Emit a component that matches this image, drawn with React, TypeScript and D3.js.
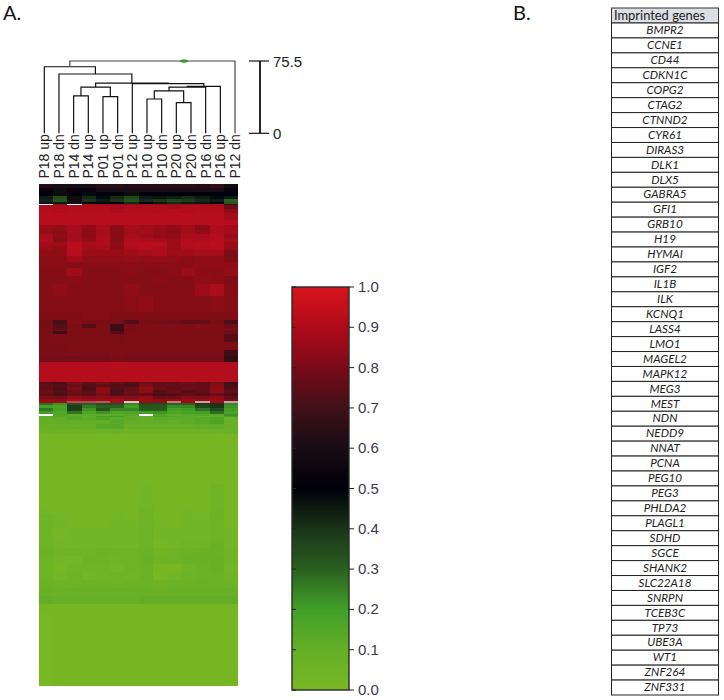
import * as d3 from 'd3';

const W = 724, H = 700;

// sample order along the heatmap and the dendrogram
const samples = ['P18 up', 'P18 dn', 'P14 dn', 'P14 up', 'P01 up', 'P01 dn', 'P12 up', 'P10 up', 'P10 dn', 'P20 up', 'P20 dn', 'P16 dn', 'P16 up', 'P12 dn'];

// [id, left child, right child, height]; numbers are leaves, strings are merges
const merges: [string, number | string, number | string, number][] = [
  ['K', 2, 3, 39], ['L', 4, 5, 38.2], ['J', 'K', 'L', 48.3],
  ['H', 7, 8, 35.8], ['I', 9, 10, 32], ['G', 'H', 'I', 44.2],
  ['F', 'G', 11, 48.3], ['E', 'F', 12, 49], ['D', 6, 'E', 51.8],
  ['C', 'J', 'D', 52.5], ['B', 1, 'C', 61.9], ['A', 0, 'B', 69.5],
  ['root', 'A', 13, 75.5],
];
const scaleTicks = [0, 75.5];

const colorDomain = [0, 0.1, 0.2, 0.3, 0.4, 0.5, 0.6, 0.7, 0.8, 0.9, 1];
const colorRange = ['#78b824', '#64ae26', '#40a028', '#2a6020', '#1a3418', '#000008', '#180c14', '#401018', '#7a0a18', '#b00a1a', '#d8141c'];
const legendTicks = [0, 0.1, 0.2, 0.3, 0.4, 0.5, 0.6, 0.7, 0.8, 0.9, 1];

// first rank of each band (rank 0 = top of the heatmap, 502 = bottom)
const bandStart = [
  0, 4, 8, 12, 15, 18, 19.5, 21, 25, 29, 36, 41, 46, 50, 54, 58, 62, 66, 72, 78, 84, 92, 100, 112, 128, 136, 140, 144, 147, 150, 158, 166, 172, 178,
  198, 199.5, 203, 206, 209, 212, 215, 216.5, 219, 221, 224, 227, 230, 231.5, 233, 236, 240, 245, 250, 300, 324, 330, 336, 344, 356, 364, 372, 380, 388, 396, 404, 412, 420, 428,
];
const bandValues: (number | null)[][] = [
  [.62, .60, .58, .60, .64, .64, .62, .62, .62, .64, .64, .62, .66, .56],
  [.54, .56, .55, .55, .58, .58, .58, .58, .58, .60, .58, .58, .58, .53],
  [.50, .47, .52, .48, .52, .50, .47, .52, .52, .50, .50, .52, .52, .50],
  [.44, .34, .47, .42, .48, .42, .36, .44, .46, .44, .42, .44, .48, .44],
  [.43, .33, .47, .40, .44, .40, .33, .42, .40, .36, .38, .42, .44, .30],
  [.60, .44, .60, .50, .55, .50, .42, .50, .46, .42, .44, .46, .52, .33],
  [null, .86, null, .88, .86, .86, .86, .86, .86, .86, .86, .88, .88, .70],
  [.90, .89, .90, .90, .90, .88, .90, .90, .90, .88, .90, .90, .90, .78],
  [.91, .90, .91, .91, .91, .89, .91, .91, .90, .91, .90, .91, .91, .84],
  [.92, .92, .92, .92, .92, .92, .92, .92, .92, .92, .92, .92, .92, .88],
  [.92, .92, .92, .92, .92, .92, .92, .92, .92, .92, .92, .92, .92, .91],
  [.86, .85, .88, .84, .89, .83, .88, .87, .86, .84, .87, .83, .90, .87],
  [.85, .83, .88, .83, .88, .82, .87, .88, .85, .83, .87, .84, .90, .88],
  [.88, .84, .87, .83, .89, .83, .88, .86, .84, .84, .88, .88, .91, .85],
  [.90, .82, .88, .84, .90, .82, .90, .89, .88, .86, .90, .90, .92, .88],
  [.87, .87, .92, .88, .90, .84, .92, .92, .93, .86, .91, .92, .93, .86],
  [.86, .84, .93, .87, .88, .83, .90, .92, .90, .86, .90, .91, .92, .85],
  [.84, .84, .92, .86, .86, .86, .87, .88, .90, .87, .87, .88, .88, .80],
  [.83, .83, .87, .84, .84, .84, .85, .84, .85, .84, .83, .84, .84, .81],
  [.83, .83, .82, .83, .83, .83, .83, .83, .83, .83, .83, .84, .84, .84],
  [.82, .82, .87, .82, .82, .82, .83, .82, .82, .83, .86, .83, .83, .85],
  [.82, .82, .83, .82, .82, .82, .82, .82, .83, .82, .82, .84, .83, .81],
  [.82, .84, .82, .82, .82, .82, .84, .82, .82, .82, .82, .86, .89, .82],
  [.82, .82, .82, .82, .82, .82, .83, .84, .82, .82, .82, .82, .83, .82],
  [.81, .81, .81, .82, .82, .81, .81, .81, .81, .81, .81, .81, .81, .81],
  [.79, .72, .82, .80, .80, .80, .74, .80, .79, .78, .76, .76, .80, .72],
  [.79, .74, .80, .74, .81, .70, .80, .81, .81, .81, .81, .82, .81, .78],
  [.80, .76, .81, .81, .81, .68, .80, .81, .81, .81, .81, .81, .81, .80],
  [.80, .70, .81, .81, .81, .74, .81, .81, .81, .81, .81, .81, .81, .78],
  [.80, .81, .80, .81, .81, .80, .81, .81, .81, .81, .81, .81, .81, .74],
  [.80, .80, .81, .81, .81, .81, .81, .81, .81, .81, .81, .81, .81, .81],
  [.80, .80, .81, .80, .80, .81, .80, .80, .80, .80, .80, .80, .80, .70],
  [.79, .79, .79, .79, .79, .80, .79, .79, .79, .79, .79, .79, .79, .66],
  [.91, .91, .91, .91, .91, .91, .91, .91, .91, .91, .91, .91, .91, .91],
  [.74, .72, .79, .76, .79, .76, .74, .78, .76, .76, .78, .76, .80, .68],
  [.76, .74, .78, .74, .76, .74, .72, .80, .76, .76, .76, .76, .82, .72],
  [.76, .72, .80, .72, .83, .74, .76, .84, .78, .76, .78, .76, .83, .74],
  [.78, .74, .78, .74, .84, .72, .78, .84, .74, .78, .74, .76, .84, .76],
  [.76, .72, .77, .75, .80, .74, .76, .76, .72, .74, .76, .74, .78, .72],
  [.80, .80, .84, .82, .84, .84, .82, .84, .78, .78, .82, .82, .84, .76],
  [.84, .84, .88, .86, .86, .88, .84, .86, .84, .84, .86, .84, .86, .80],
  [.86, .86, .88, .86, .88, .88, .86, .86, .84, .86, .86, .86, .86, .80],
  [.28, .22, .33, .30, .33, .33, .24, .34, .34, .30, .30, .38, .40, .24],
  [.19, .17, .38, .26, .30, .30, .20, .32, .32, .23, .24, .36, .40, .22],
  [.26, .18, .37, .22, .33, .24, .24, .31, .31, .18, .20, .27, .34, .20],
  [.20, .15, .27, .16, .22, .16, .16, .20, .22, .16, .18, .20, .28, .17],
  [null, .15, .12, .12, .10, .12, .13, null, .15, .12, .13, .14, .13, .22],
  [.11, .13, .14, .10, .18, .20, .10, .10, .18, .14, .12, .10, .12, .18],
  [.10, .11, .14, .12, .16, .12, .12, .10, .12, .12, .12, .13, .16, .08],
  [.10, .10, .11, .10, .10, .13, .10, .10, .11, .10, .12, .14, .17, .08],
  [.08, .08, .09, .08, .13, .14, .09, .09, .09, .09, .09, .10, .10, .09],
  [.06, .05, .05, .05, .06, .07, .05, .05, .05, .05, .05, .05, .06, .08],
  [.02, .02, .02, .02, .02, .02, .02, .02, .02, .02, .02, .02, .02, .02],
  [.02, .02, .02, .02, .02, .02, .02, .03, .02, .02, .02, .02, .04, .02],
  [.03, .02, .02, .02, .02, .02, .02, .04, .02, .02, .03, .02, .05, .02],
  [.04, .03, .02, .02, .02, .03, .02, .04, .02, .02, .03, .03, .06, .02],
  [.05, .03, .02, .02, .02, .03, .03, .04, .03, .02, .03, .03, .05, .02],
  [.05, .02, .03, .03, .03, .03, .03, .05, .03, .03, .03, .03, .05, .03],
  [.05, .03, .03, .03, .03, .03, .03, .05, .02, .03, .04, .04, .07, .03],
  [.06, .04, .05, .04, .06, .05, .05, .06, .04, .05, .06, .07, .07, .04],
  [.05, .03, .03, .05, .05, .04, .05, .07, .05, .05, .07, .07, .08, .04],
  [.05, .02, .04, .04, .04, .03, .05, .06, .02, .01, .04, .06, .08, .03],
  [.05, .03, .05, .03, .04, .05, .04, .06, .01, .03, .05, .06, .06, .04],
  [.06, .05, .05, .06, .06, .05, .06, .06, .05, .06, .06, .07, .06, .05],
  [.08, .07, .08, .07, .08, .08, .08, .08, .07, .08, .08, .08, .08, .08],
  [.10, .09, .09, .09, .09, .09, .09, .10, .10, .10, .10, .10, .10, .10],
  [.02, .02, .02, .02, .02, .02, .02, .02, .02, .02, .02, .02, .02, .02],
  [.01, .02, .02, .02, .02, .02, .02, .02, .02, .02, .02, .02, .02, .02],
];

// pale, half-missing cells along the red/green boundary
const paleRank = 217;
const paleCols = [2, 3, 4, 6, 9, 11, 13];
const paleStrength = [0.25, 0.25, 0.3, 0.75, 0.45, 0.6, 0.6];

const genes = ['BMPR2', 'CCNE1', 'CD44', 'CDKN1C', 'COPG2', 'CTAG2', 'CTNND2', 'CYR61', 'DIRAS3', 'DLK1', 'DLX5', 'GABRA5', 'GFI1', 'GRB10', 'H19', 'HYMAI', 'IGF2', 'IL1B', 'ILK', 'KCNQ1', 'LASS4', 'LMO1', 'MAGEL2', 'MAPK12', 'MEG3', 'MEST', 'NDN', 'NEDD9', 'NNAT', 'PCNA', 'PEG10', 'PEG3', 'PHLDA2', 'PLAGL1', 'SDHD', 'SGCE', 'SHANK2', 'SLC22A18', 'SNRPN', 'TCEB3C', 'TP73', 'UBE3A', 'WT1', 'ZNF264', 'ZNF331'];

const color = d3.scaleLinear<string>().domain(colorDomain).range(colorRange).interpolate(d3.interpolateRgb);

const heatX = d3.scaleBand<number>().domain(d3.range(samples.length)).range([39, 238]);
const heatY = d3.scaleLinear().domain([0, 502]).range([184, 686]);
const leafX = d3.scalePoint<number>().domain(d3.range(samples.length)).range([44.3, 235]);
const dendroY = d3.scaleLinear().domain([0, 75.5]).range([133.3, 61]);
const legendY = d3.scaleLinear().domain([0, 1]).range([690, 287]);
const rowY = d3.scaleBand<number>().domain(d3.range(genes.length)).range([23, 695]);

const nodeX = new Map<number | string, number>();
const nodeH = new Map<number | string, number>();
samples.forEach((_, i) => { nodeX.set(i, leafX(i)!); nodeH.set(i, 0); });
const dendroLinks = merges.map(([id, a, b, h]) => {
  const xa = nodeX.get(a)!, xb = nodeX.get(b)!;
  nodeX.set(id, (xa + xb) / 2);
  nodeH.set(id, h);
  return { id, xa, xb, ya: dendroY(nodeH.get(a)!), yb: dendroY(nodeH.get(b)!), y: dendroY(h) };
});

const ink = '#111';
const labelFont = '"Liberation Sans", Arial, sans-serif';
const tableFont = 'Lato, "Open Sans", sans-serif';

export default function App() {
  return (
    <svg width={W} height={H} viewBox={`0 0 ${W} ${H}`} style={{ display: 'block', position: 'absolute', left: 0, top: 0, background: '#fff' }}>
      <defs>
        <linearGradient id="legend" x1="0" x2="0" y1="1" y2="0">
          {colorDomain.map(v => <stop key={v} offset={v} stopColor={color(v)} />)}
        </linearGradient>
        <filter id="soft" x="-2%" y="-2%" width="104%" height="104%">
          <feGaussianBlur stdDeviation="0.45" />
        </filter>
      </defs>

      <text x={3} y={20} fontFamily={tableFont} fontSize={20} fill="#111">A.</text>
      <text x={513} y={20} fontFamily={tableFont} fontSize={20} fill="#111">B.</text>

      {/* dendrogram */}
      <g fill="none" stroke={ink} strokeWidth={1.2}>
        {dendroLinks.map(l => (
          <path key={l.id} d={`M${l.xa},${l.ya}V${l.y}H${l.xb}V${l.yb}`} stroke={l.id === 'root' ? '#444' : ink} />
        ))}
      </g>
      <ellipse cx={184} cy={dendroY(75.5)} rx={4} ry={1.7} fill="#3a9a3a" />

      {/* height scale */}
      <g stroke={ink} strokeWidth={1.2}>
        <line x1={260} x2={260} y1={dendroY(0)} y2={dendroY(75.5)} strokeWidth={1.8} />
        {scaleTicks.map(t => <line key={t} x1={249} x2={269} y1={dendroY(t)} y2={dendroY(t)} />)}
      </g>
      {scaleTicks.map(t => (
        <text key={t} x={273} y={dendroY(t) + 6} fontFamily={labelFont} fontSize={15} fill="#222">{t}</text>
      ))}

      {samples.map((s, i) => (
        <text key={i} transform={`translate(${leafX(i)! + 5},178.5) rotate(-90)`} fontFamily={labelFont} fontSize={14} fill="#222">{s}</text>
      ))}

      {/* heatmap */}
      <g filter="url(#soft)" shapeRendering="crispEdges">
        {bandValues.map((row, r) => {
          const y0 = heatY(bandStart[r]);
          const y1 = heatY(r + 1 < bandStart.length ? bandStart[r + 1] : 502);
          return row.map((v, c) => (
            <rect key={`${r}-${c}`} x={heatX(c)} y={y0} width={heatX.bandwidth()} height={y1 - y0} fill={v == null ? '#fff' : color(v)} />
          ));
        })}
        {paleCols.map((c, i) => (
          <rect key={c} x={heatX(c)} y={heatY(paleRank)} width={heatX.bandwidth()} height={1.5} fill="#fff" opacity={paleStrength[i]} />
        ))}
      </g>

      {/* colour legend */}
      <rect x={292} y={legendY(1)} width={57} height={legendY(0) - legendY(1)} fill="url(#legend)" stroke="#2a2a2a" strokeWidth={1.4} />
      {legendTicks.map(t => (
        <g key={t}>
          <line x1={292} x2={296} y1={legendY(t)} y2={legendY(t)} stroke="#222" />
          <line x1={349} x2={354} y1={legendY(t)} y2={legendY(t)} stroke="#222" />
          <text x={358} y={legendY(t) + 5} fontFamily={labelFont} fontSize={15} fill="#3a3a4a">{t.toFixed(1)}</text>
        </g>
      ))}

      {/* gene table */}
      <rect x={611.5} y={8} width={107} height={15} fill="#dcdfe4" stroke="#333" />
      <text x={614} y={19.5} fontFamily={tableFont} fontSize={12.9} fill="#222">Imprinted genes</text>
      {genes.map((g, i) => (
        <g key={g}>
          <rect x={611.5} y={rowY(i)} width={107} height={rowY.bandwidth()} fill="#fff" stroke="#222" />
          <text x={665} y={rowY(i)! + 11.2} textAnchor="middle" fontFamily={tableFont} fontStyle="italic" fontSize={11.7} fill="#222">{g}</text>
        </g>
      ))}
    </svg>
  );
}
